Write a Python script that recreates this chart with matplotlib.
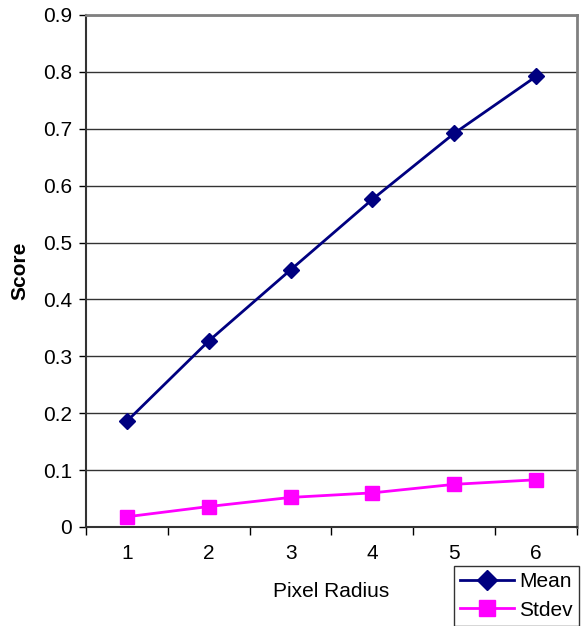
import matplotlib
matplotlib.use("Agg")
import matplotlib.pyplot as plt

radius = [1, 2, 3, 4, 5, 6]
mean_vals = [0.186, 0.327, 0.452, 0.576, 0.692, 0.792]
stdev_vals = [0.018, 0.036, 0.052, 0.060, 0.075, 0.083]
y_ticks = [0, 0.1, 0.2, 0.3, 0.4, 0.5, 0.6, 0.7, 0.8, 0.9]
y_labels = ["0", "0.1", "0.2", "0.3", "0.4", "0.5", "0.6", "0.7", "0.8", "0.9"]

plt.rcParams['font.family'] = ['Liberation Sans', 'DejaVu Sans']
FS = 15

fig = plt.figure(figsize=(5.84, 6.26), dpi=100)
ax = fig.add_axes([86/584, (626-527)/626, (577-86)/584, (527-15)/626])

ax.plot(radius, mean_vals, color='#000080', lw=2, marker='D', markersize=8.5,
        label='Mean', zorder=3)
ax.plot(radius, stdev_vals, color='#FF00FF', lw=2, marker='s', markersize=10.5,
        label='Stdev', zorder=3)

ax.set_xlim(0.5, 6.5)
ax.set_ylim(0, 0.9)
ax.set_yticks(y_ticks)
ax.set_yticklabels(y_labels)
ax.set_xticks([i + 0.5 for i in range(0, 7)])
ax.set_xticklabels([])
ax.set_xticks(radius, minor=True)
ax.set_xticklabels([str(r) for r in radius], minor=True)
ax.tick_params(axis='x', which='minor', length=0, pad=12, labelsize=FS)
ax.tick_params(axis='x', which='major', length=6, width=1, color='black', direction='out')
ax.tick_params(axis='y', length=5, width=1, direction='out', labelsize=FS, pad=5)

ax.yaxis.grid(True, color='#333333', lw=1)
ax.set_axisbelow(True)
for s in ['top', 'right']:
    ax.spines[s].set_color('#808080')
    ax.spines[s].set_linewidth(2)
for s in ['left', 'bottom']:
    ax.spines[s].set_color('#333333')
    ax.spines[s].set_linewidth(1.5)

ax.set_ylabel('Score', fontsize=FS, fontweight='bold', labelpad=10)
ax.set_xlabel('Pixel Radius', fontsize=FS, labelpad=14)

leg = fig.legend(loc='lower right', bbox_to_anchor=(579/584, 0.0), fontsize=FS,
                 frameon=True, fancybox=False, edgecolor='black', handlelength=2.6,
                 borderpad=0.3, labelspacing=0.45, handletextpad=0.25, borderaxespad=0,
                 markerscale=1.15)
leg.get_frame().set_linewidth(1)

fig.savefig('out.png', dpi=100)
